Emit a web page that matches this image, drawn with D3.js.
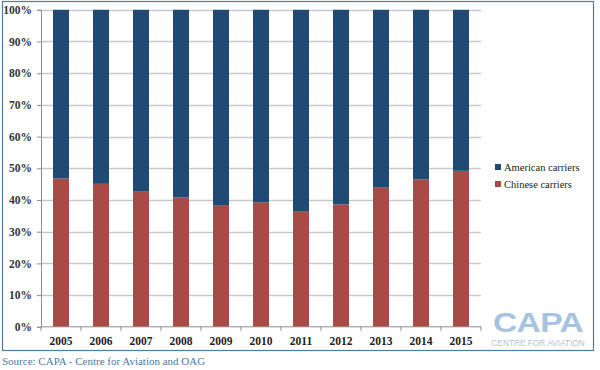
<!DOCTYPE html>
<html>
<head>
<meta charset="utf-8">
<script src="https://d3js.org/d3.v7.min.js"></script>
<style>
  body { margin: 0; background: #fff; }
  svg text { font-family: "Liberation Serif", "DejaVu Serif", serif; }
</style>
</head>
<body>
<div id="chart"></div>
<script>
// values (share of seats, %)
var years = ["2005", "2006", "2007", "2008", "2009", "2010", "2011", "2012", "2013", "2014", "2015"];
var chinese = [46.8, 45.1, 42.8, 40.8, 38.4, 39.3, 36.5, 38.6, 43.9, 46.5, 49.2];
var american = chinese.map(function(c) { return 100 - c; });
var series_names = ["American carriers", "Chinese carriers"];
var y_ticks = [0, 10, 20, 30, 40, 50, 60, 70, 80, 90, 100];

var width = 600;
var height = 370;
var blue = "#1f4a73";
var red = "#a64b45";

var svg = d3.select("#chart").append("svg")
  .attr("width", width)
  .attr("height", height);

// outer frame
svg.append("rect")
  .attr("x", 2.5).attr("y", 1.5)
  .attr("width", 591).attr("height", 349)
  .attr("fill", "none")
  .attr("stroke", "#4f7ba0")
  .attr("stroke-width", 1.2);

var x = d3.scaleBand().domain(years).range([41, 481]).paddingInner(0.6).paddingOuter(0.3);
var y = d3.scaleLinear().domain([0, 100]).range([326.8, 9.8]);

// grid
svg.append("g")
  .selectAll("line")
  .data(y_ticks.filter(function(t) { return t > 0; }))
  .enter().append("line")
    .attr("x1", 41).attr("x2", 481)
    .attr("y1", function(d) { return Math.round(y(d)) + 0.5; })
    .attr("y2", function(d) { return Math.round(y(d)) + 0.5; })
    .attr("stroke", "#c8c8c8")
    .attr("stroke-width", 1.3);

// stacked bars
var rows = years.map(function(yr, i) { return { year: yr, chinese: chinese[i], american: american[i] }; });
var stack = d3.stack().keys(["chinese", "american"])(rows);
var colors = { chinese: red, american: blue };

svg.append("g")
  .selectAll("g")
  .data(stack)
  .enter().append("g")
    .attr("fill", function(d) { return colors[d.key]; })
  .selectAll("rect")
  .data(function(d) { return d; })
  .enter().append("rect")
    .attr("x", function(d) { return x(d.data.year); })
    .attr("width", x.bandwidth())
    .attr("y", function(d) { return y(d[1]); })
    .attr("height", function(d) { return y(d[0]) - y(d[1]); });

// y axis
var yAxis = d3.axisLeft(y)
  .tickValues(y_ticks)
  .tickSize(4)
  .tickPadding(5)
  .tickFormat(function(d) { return d + "%"; });

var gy = svg.append("g").attr("transform", "translate(41,0)").call(yAxis);
gy.select(".domain").attr("stroke", "#8c8c8c");
gy.selectAll(".tick line").attr("stroke", "#8c8c8c");
gy.selectAll("text")
  .attr("font-size", 11.5)
  .attr("font-weight", "bold")
  .attr("fill", "#333")
  .style("font-family", "'Liberation Serif', serif");

// x axis, ticks sit between categories
var gx = svg.append("g").attr("transform", "translate(0,326.8)");
gx.append("line")
  .attr("x1", 41).attr("x2", 481)
  .attr("y1", 0).attr("y2", 0)
  .attr("stroke", "#8c8c8c");
gx.selectAll("line.tk")
  .data(d3.range(years.length + 1))
  .enter().append("line")
    .attr("class", "tk")
    .attr("x1", function(i) { return 41 + i * x.step(); })
    .attr("x2", function(i) { return 41 + i * x.step(); })
    .attr("y1", 0).attr("y2", 4)
    .attr("stroke", "#8c8c8c");
gx.selectAll("text")
  .data(years)
  .enter().append("text")
    .attr("x", function(d) { return x(d) + x.bandwidth() / 2; })
    .attr("y", 18.5)
    .attr("text-anchor", "middle")
    .attr("font-size", 11.5)
    .attr("font-weight", "bold")
    .attr("fill", "#222")
    .text(function(d) { return d; });

// legend
var legend = svg.append("g").attr("transform", "translate(495,164)");
series_names.forEach(function(name, i) {
  legend.append("rect")
    .attr("x", 0).attr("y", i * 17)
    .attr("width", 6).attr("height", 6)
    .attr("fill", i === 0 ? blue : red);
  legend.append("text")
    .attr("x", 9).attr("y", i * 17 + 7)
    .attr("font-size", 10.5)
    .attr("fill", "#222")
    .text(name);
});

// CAPA logo (stretched wide)
svg.append("text")
  .attr("transform", "translate(538,332) scale(1.2,1)")
  .attr("text-anchor", "middle")
  .attr("font-size", 28)
  .attr("font-weight", "bold")
  .attr("fill", "#a8c3e1")
  .style("font-family", "'Liberation Sans', sans-serif")
  .style("letter-spacing", "-0.5px")
  .text("CAPA");
svg.append("text")
  .attr("x", 538).attr("y", 346)
  .attr("text-anchor", "middle")
  .attr("font-size", 8.3)
  .attr("fill", "#b3c2d2")
  .style("font-family", "'Liberation Sans', sans-serif")
  .text("CENTRE FOR AVIATION");

// source
svg.append("text")
  .attr("x", 2).attr("y", 365)
  .attr("font-size", 11)
  .attr("fill", "#4a79a5")
  .text("Source: CAPA - Centre for Aviation and OAG");
</script>
</body>
</html>
